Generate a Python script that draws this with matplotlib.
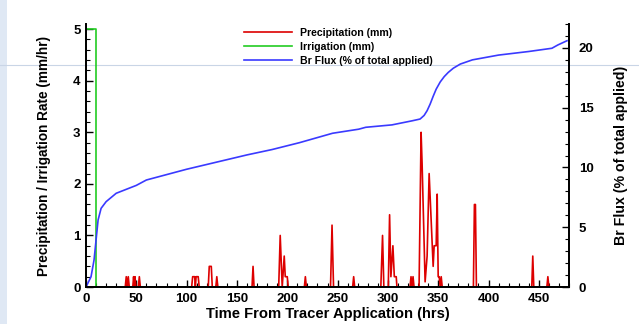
import matplotlib
matplotlib.use("Agg")
import matplotlib.pyplot as plt
from matplotlib.ticker import MultipleLocator
from matplotlib.lines import Line2D
from matplotlib.patches import Rectangle

plt.rcParams['font.family'] = ['Liberation Sans', 'DejaVu Sans']
plt.rcParams['font.weight'] = 'bold'

# Precipitation (mm/hr) vs time (hrs)
precip_t = [0, 39, 40, 41, 42, 43,
            46.5, 47.3, 48, 48.7, 49.5,
            52, 53, 54,
            105, 106, 108, 108.7, 109.4, 111.5, 112.5,
            121.5, 122.5, 124.5, 125.5,
            129, 130, 131,
            165, 166, 167,
            191.5, 193, 195, 197, 198, 200, 201,
            217, 218, 219,
            243, 244.5, 246,
            265, 266, 267,
            293, 294.7, 296,
            300.4, 301.7, 303, 305, 306.4, 308.3, 309,
            322, 323, 324, 325, 326,
            331, 333, 334, 337, 339, 341, 345, 346, 348, 349, 350, 351, 352, 353, 354,
            385, 386, 387, 388,
            443, 444, 445,
            458, 459, 460, 480]
precip_v = [0, 0, 0.2, 0, 0.2, 0,
            0, 0.2, 0, 0.2, 0,
            0, 0.2, 0,
            0, 0.2, 0.2, 0, 0.2, 0.2, 0,
            0, 0.4, 0.4, 0,
            0, 0.2, 0,
            0, 0.4, 0,
            0, 1.0, 0, 0.6, 0.2, 0.2, 0,
            0, 0.2, 0,
            0, 1.2, 0,
            0, 0.2, 0,
            0, 1.0, 0,
            0, 1.4, 0.2, 0.8, 0.2, 0.2, 0,
            0, 0.2, 0, 0.2, 0,
            0, 3.0, 2.4, 0.1, 0.6, 2.2, 0.4, 0.8, 0.8, 1.8, 0.2, 0.2, 0, 0.2, 0,
            0, 1.6, 1.6, 0,
            0, 0.6, 0,
            0, 0.2, 0, 0]

# Irrigation (mm/hr)
irrig_t = [0, 10, 10, 480]
irrig_v = [5.0, 5.0, 0, 0]

# Br flux (% of total applied)
br_t = [0, 5, 8, 10, 12, 15, 20, 30, 40, 50, 60, 80, 100, 130, 160, 185, 212,
        245, 271, 278, 304, 324, 332, 336, 339, 342, 345, 348, 352, 356, 360, 365, 372,
        384, 410, 440, 463, 469, 478]
br_v = [0, 0.86, 2.26, 3.93, 5.6, 6.58, 7.14, 7.84, 8.17, 8.5, 8.95, 9.4, 9.85,
        10.45, 11.05, 11.5, 12.07, 12.86, 13.2, 13.36, 13.56, 13.9, 14.05, 14.35,
        14.75, 15.3, 15.95, 16.55, 17.15, 17.6, 17.95, 18.3, 18.65, 19.0, 19.4,
        19.7, 19.97, 20.25, 20.6]

W, H = 639, 324
fig = plt.figure(figsize=(W / 100, H / 100), dpi=100)
fig.patch.set_facecolor('white')

# page decorations
fig.add_artist(Rectangle((0, 0), 7 / W, 1, transform=fig.transFigure,
                         facecolor='#dfe8f4', edgecolor='none', zorder=-5))
fig.add_artist(Line2D([0, 1], [1 - 65 / H, 1 - 65 / H], transform=fig.transFigure,
                      color='#c9d5e6', lw=0.8, zorder=-1))

left, right, top, bottom = 86, 569, 24, 287
ax = fig.add_axes([left / W, 1 - bottom / H, (right - left) / W, (bottom - top) / H])
ax.patch.set_alpha(0)
ax2 = ax.twinx()
ax2.patch.set_alpha(0)

red, green, blue = '#dd0000', '#22cc22', '#3a3aff'
l1, = ax.plot(precip_t, precip_v, color=red, lw=1.2, label='Precipitation (mm)')
l2, = ax.plot(irrig_t, irrig_v, color=green, lw=1.2, label='Irrigation (mm)')
l3, = ax2.plot(br_t, br_v, color=blue, lw=1.2, label='Br Flux (% of total applied)')

ax.set_xlim(0, 480)
ax.set_ylim(0, 5.1)
ax2.set_ylim(0, 22)

for a in (ax, ax2):
    a.spines['top'].set_visible(False)
    for s in a.spines.values():
        s.set_linewidth(1.3)
        s.set_zorder(5)

ax.xaxis.set_major_locator(MultipleLocator(50))
ax.xaxis.set_minor_locator(MultipleLocator(10))
ax.yaxis.set_major_locator(MultipleLocator(1))
ax.yaxis.set_minor_locator(MultipleLocator(0.2))
ax2.yaxis.set_major_locator(MultipleLocator(5))
ax2.yaxis.set_minor_locator(MultipleLocator(1))

ax.tick_params(axis='both', which='major', direction='in', length=5, width=1.0,
               labelsize=9.5, pad=4)
ax.tick_params(axis='both', which='minor', direction='in', length=3, width=0.8)
ax2.tick_params(axis='y', which='major', direction='in', length=5, width=1.0,
                labelsize=9.5, pad=7)
ax2.tick_params(axis='y', which='minor', direction='in', length=3, width=0.8)
for lab in ax.get_xticklabels() + ax.get_yticklabels() + ax2.get_yticklabels():
    lab.set_fontweight('bold')

ax.set_xlabel('Time From Tracer Application (hrs)', fontsize=10.6, fontweight='bold', labelpad=2)
ax.set_ylabel('Precipitation / Irrigation Rate (mm/hr)', fontsize=9.8, fontweight='bold', labelpad=16)
ax2.set_ylabel('Br Flux (% of total applied)', fontsize=10.2, fontweight='bold', labelpad=15)

leg = ax2.legend(handles=[l1, l2, l3], loc='upper left',
                 bbox_to_anchor=(242 / W, 1 - 26 / H), bbox_transform=fig.transFigure,
                 frameon=False, fontsize=7.6, handlelength=4.5, handletextpad=0.75,
                 labelspacing=0.35, borderaxespad=0, borderpad=0.2)
for t in leg.get_texts():
    t.set_fontweight('bold')

fig.savefig('out.png', dpi=100)
